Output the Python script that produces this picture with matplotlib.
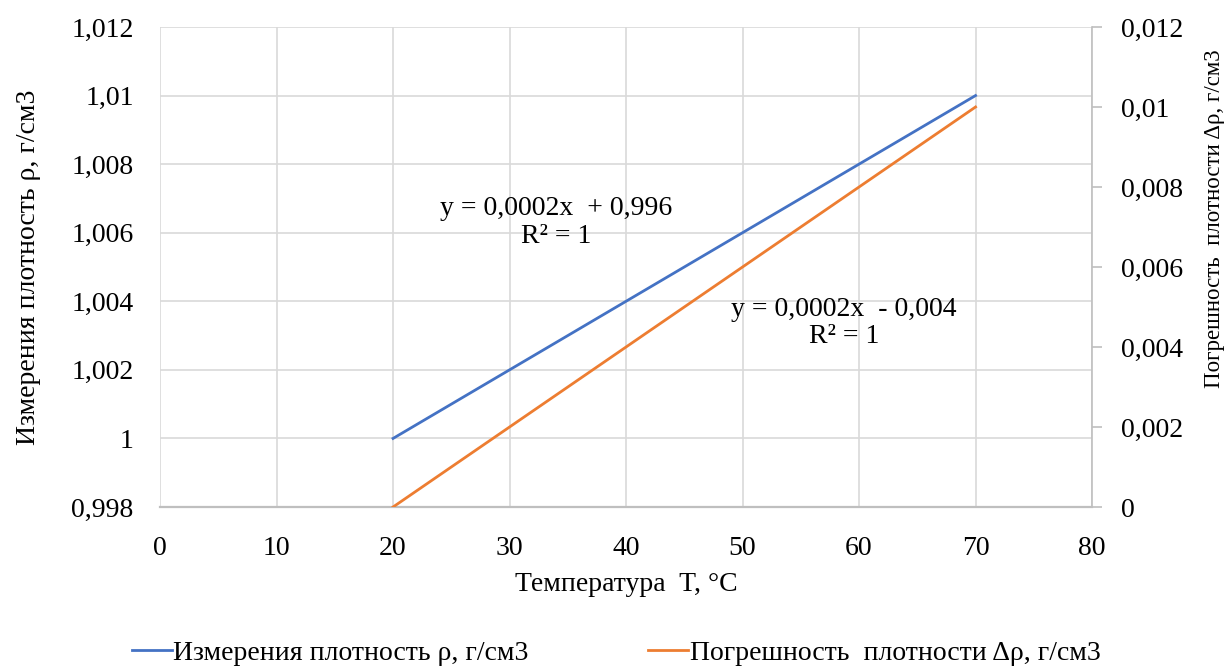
import matplotlib
matplotlib.use("Agg")
import matplotlib.pyplot as plt
from matplotlib.ticker import FuncFormatter, MultipleLocator

plt.rcParams['font.family'] = ['Liberation Serif', 'DejaVu Serif']

# measurements
temps = [20, 30, 40, 50, 60, 70]
density = [1.000, 1.002, 1.004, 1.006, 1.008, 1.010]
density_err = [0.000, 0.002, 0.004, 0.006, 0.008, 0.010]

label_rho = "Измерения плотность ρ, г/см3"
label_err = "Погрешность  плотности Δρ, г/см3"
eq_rho = "y = 0,0002x  + 0,996\nR² = 1"
eq_err = "y = 0,0002x  - 0,004\nR² = 1"

BLUE = "#4472C4"
ORANGE = "#ED7D31"
GRID = "#D9D9D9"
AXIS = "#BFBFBF"
FS = 20


def comma_fmt(v, pos):
    return f"{round(v, 6):g}".replace(".", ",")


fig = plt.figure(figsize=(12.32, 6.68), dpi=100)
ax = fig.add_axes([0.1299, 0.241, 0.7565, 0.7186])
ax2 = ax.twinx()

l1, = ax.plot(temps, density, color=BLUE, lw=2, label=label_rho)
l2, = ax2.plot(temps, density_err, color=ORANGE, lw=2, label=label_err)

ax.set_xlim(0, 80)
ax.set_ylim(0.998, 1.012)
ax2.set_ylim(0, 0.012)
ax.xaxis.set_major_locator(MultipleLocator(10))
ax.yaxis.set_major_locator(MultipleLocator(0.002))
ax2.yaxis.set_major_locator(MultipleLocator(0.002))
ax.yaxis.set_major_formatter(FuncFormatter(comma_fmt))
ax2.yaxis.set_major_formatter(FuncFormatter(comma_fmt))

ax.grid(True, color=GRID, lw=1.2)
ax.set_axisbelow(True)

for a in (ax, ax2):
    for s in a.spines.values():
        s.set_visible(False)
ax.spines['bottom'].set_visible(True)
ax.spines['bottom'].set_color(AXIS)
ax.spines['bottom'].set_linewidth(1.6)
ax2.spines['right'].set_visible(True)
ax2.spines['right'].set_color(AXIS)
ax2.spines['right'].set_linewidth(1.2)

ax.tick_params(axis='x', length=0, pad=21, labelsize=FS)
ax.tick_params(axis='y', length=0, pad=19, labelsize=FS)
ax2.tick_params(axis='y', length=7, width=1.2, color=AXIS, pad=14, labelsize=FS)

ax.set_xlabel("Температура  T, °C", fontsize=FS, labelpad=8)
ax.set_ylabel(label_rho, fontsize=FS, labelpad=22)
ax2.set_ylabel(label_err, fontsize=16.5, labelpad=15)
ax2.yaxis.label.set_y(0.6)

ax.text(34, 1.0063, eq_rho, fontsize=FS, ha='center', va='center',
        linespacing=1.15)
ax2.text(58.7, 0.0046, eq_err, fontsize=FS, ha='center', va='center',
         linespacing=1.15)

fig.legend(handles=[l1, l2], loc='center', bbox_to_anchor=(0.5, 0.022),
           ncol=2, frameon=False, fontsize=FS, handlelength=1.45,
           handletextpad=0.05, columnspacing=4.3)

fig.savefig("out.png", dpi=100)
